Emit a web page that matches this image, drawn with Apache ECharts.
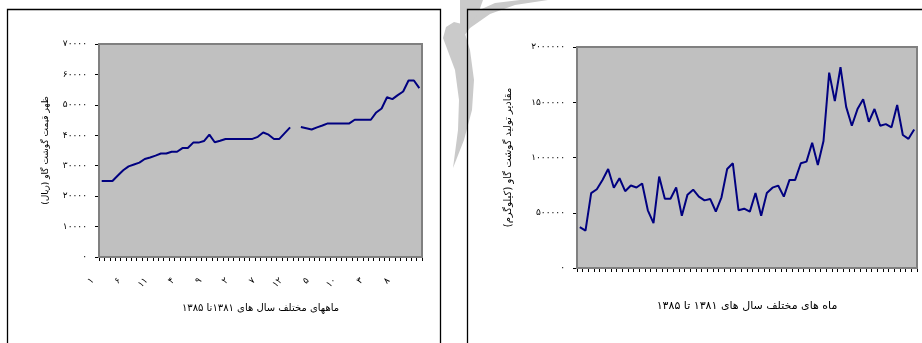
<!DOCTYPE html>
<html>
<head>
<meta charset="utf-8">
<script src="https://cdn.jsdelivr.net/npm/echarts@6/dist/echarts.min.js"></script>
<style>
html,body{margin:0;padding:0;background:#fff;}
#c{width:922px;height:343px;}
</style>
</head>
<body>
<div id="c"></div>
<script>
// ---- data ----
var years = ['۱۳۸۱', '۱۳۸۲', '۱۳۸۳', '۱۳۸۴', '۱۳۸۵'];
var monthLabels = ['۱','۲','۳','۴','۵','۶','۷','۸','۹','۱۰','۱۱','۱۲'];

// beef price (rial), 60 months, one missing month
var priceValues = [
  25000, 25000, 25000, 26800, 28500, 29800, 30400, 31000, 32200, 32700,
  33300, 34000, 34000, 34600, 34600, 35800, 35800, 37600, 37600, 38100,
  40200, 37700, 38200, 38800, 38800, 38800, 38800, 38800, 38800, 39500,
  40900, 40200, 38800, 38800, 40700, 42600, null, 42700, 42300, 41900,
  42600, 43200, 43900, 43900, 43900, 43900, 43900, 45100, 45100, 45100,
  45100, 47500, 48800, 52500, 51900, 53200, 54400, 58000, 58000, 55500
];

// beef production (kg), 60 months
var productionValues = [
  370000, 339000, 677000, 713000, 797000, 896000, 727000, 812000, 695000, 746000,
  728000, 765000, 522000, 406000, 827000, 627000, 627000, 728000, 472000, 664000,
  709000, 646000, 612000, 625000, 511000, 640000, 896000, 948000, 523000, 537000,
  510000, 678000, 472000, 678000, 727000, 746000, 646000, 797000, 797000, 948000,
  963000, 1134000, 933000, 1149000, 1768000, 1510000, 1817000, 1458000, 1287000, 1438000,
  1528000, 1323000, 1439000, 1287000, 1302000, 1273000, 1475000, 1204000, 1169000, 1253000
];

var leftYTitle = 'ظهر قیمت گوشت گاو (ریال)';
var leftXTitle = 'ماههای مختلف سال های ۱۳۸۱تا ۱۳۸۵';
var rightYTitle = 'مقادیر تولید گوشت گاو (کیلوگرم)';
var rightXTitle = 'ماه های مختلف سال های ۱۳۸۱ تا ۱۳۸۵';

// ---- helpers ----
var FA = ['۰','۱','۲','۳','۴','۵','۶','۷','۸','۹'];
function toFa(n){ return String(n).replace(/[0-9]/g, function(d){ return FA[+d]; }); }

var categories = [];
years.forEach(function(y){ monthLabels.forEach(function(m){ categories.push(m); }); });
var cat2 = categories.map(function(c, i){ return 'm' + i; });

var FONT = 'DejaVu Sans';
var black = '#000';
var wm = '#cacaca';

var chart = echarts.init(document.getElementById('c'), null, {renderer: 'canvas'});

var option = {
  animation: false,
  backgroundColor: '#fff',
  textStyle: {fontFamily: FONT},
  graphic: [
    // watermark fragments
    {type: 'polygon', z: 0, shape: {points: [[443,38],[446,27],[454,22],[462,24],[470,50],[474,80],[472,110],[464,140],[453,168],[458,130],[459,100],[455,70]]}, style: {fill: wm}},
    {type: 'polygon', z: 0, shape: {points: [[458,44],[470,28],[490,14],[515,5],[548,0],[520,0],[495,3],[475,12],[462,22]]}, style: {fill: wm}},
    {type: 'polygon', z: 0, shape: {points: [[460,0],[483,0],[478,14],[468,26],[460,30]]}, style: {fill: wm}},
    // chart frames
    {type: 'rect', z: 1, shape: {x: 7.5, y: 9.5, width: 433, height: 340}, style: {fill: null, stroke: '#000', lineWidth: 1.3}},
    {type: 'rect', z: 1, shape: {x: 467.5, y: 9.5, width: 470, height: 340}, style: {fill: null, stroke: '#000', lineWidth: 1.3}}
  ],
  grid: [
    {left: 99, top: 44, width: 323, height: 213, show: true, backgroundColor: '#c0c0c0', borderColor: '#808080', borderWidth: 2, z: 2},
    {left: 577, top: 47, width: 340, height: 221, show: true, backgroundColor: '#c0c0c0', borderColor: '#808080', borderWidth: 2, z: 2}
  ],
  xAxis: [
    {
      type: 'category', gridIndex: 0, data: categories, boundaryGap: true,
      axisLine: {show: true, lineStyle: {color: black, width: 2}},
      axisTick: {show: true, interval: 0, length: 4, lineStyle: {color: black, width: 1}},
      axisLabel: {
        interval: 4, rotate: 45, margin: 13, color: black, fontSize: 9, fontFamily: FONT,
        formatter: function(v){ return '{a|' + v + '}'; },
        rich: {a: {padding: [0, 13, 0, 0], fontSize: 9, fontFamily: FONT, color: black}}
      },
      name: leftXTitle, nameLocation: 'middle', nameGap: 46,
      nameTextStyle: {fontSize: 10, color: black, fontFamily: FONT}
    },
    {
      type: 'category', gridIndex: 1, data: cat2, boundaryGap: true,
      axisLine: {show: true, lineStyle: {color: black, width: 2}},
      axisTick: {show: true, interval: 0, length: 4, lineStyle: {color: black, width: 1}},
      axisLabel: {show: false},
      name: rightXTitle, nameLocation: 'middle', nameGap: 33,
      nameTextStyle: {fontSize: 11, color: black, fontFamily: FONT}
    }
  ],
  yAxis: [
    {
      type: 'value', gridIndex: 0, min: 0, max: 70000, interval: 10000,
      axisLine: {show: true, lineStyle: {color: black, width: 2}},
      axisTick: {show: true, length: 4, lineStyle: {color: black, width: 1}},
      splitLine: {show: false},
      axisLabel: {margin: 12, color: black, fontSize: 9, fontFamily: FONT, formatter: function(v){ return toFa(v); }},
      name: leftYTitle, nameLocation: 'middle', nameRotate: 90, nameGap: 49,
      nameTextStyle: {fontSize: 9, color: black, fontFamily: FONT}
    },
    {
      type: 'value', gridIndex: 1, min: 0, max: 2000000, interval: 500000,
      axisLine: {show: true, lineStyle: {color: black, width: 2}},
      axisTick: {show: true, length: 4, lineStyle: {color: black, width: 1}},
      splitLine: {show: false},
      axisLabel: {margin: 12, color: black, fontSize: 9, fontFamily: FONT, formatter: function(v){ return toFa(v); }},
      name: rightYTitle, nameLocation: 'middle', nameRotate: 90, nameGap: 64,
      nameTextStyle: {fontSize: 10, color: black, fontFamily: FONT}
    }
  ],
  series: [
    {type: 'line', xAxisIndex: 0, yAxisIndex: 0, data: priceValues, symbol: 'none', connectNulls: false,
     lineStyle: {color: '#000080', width: 2}, z: 5},
    {type: 'line', xAxisIndex: 1, yAxisIndex: 1, data: productionValues, symbol: 'none',
     lineStyle: {color: '#000080', width: 2}, z: 5}
  ]
};
chart.setOption(option);
</script>
</body>
</html>
